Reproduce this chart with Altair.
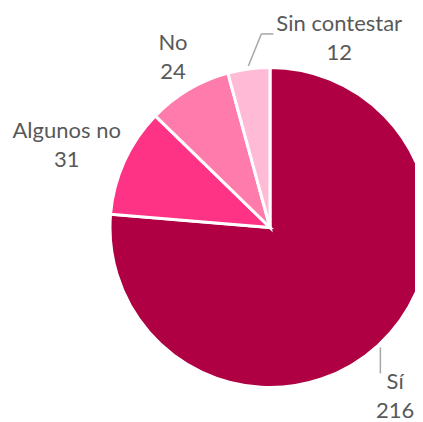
import altair as alt
import pandas as pd

categories = ["Sí", "Algunos no", "No", "Sin contestar"]
values = [216, 31, 24, 12]
colors = ["#AE0042", "#FF3385", "#FF7BAC", "#FFBAD6"]

df = pd.DataFrame({"categoria": categories, "valor": values, "orden": list(range(len(categories)))})

CX, CY, R = 262, 219.5, 160
FONT = "Lato"
TEXT_COLOR = "#595959"
LINE_COLOR = "#A6A6A6"
LH = 29

base = alt.Chart(df).transform_joinaggregate(
    total="sum(valor)"
).transform_window(
    cum="sum(valor)", sort=[alt.SortField("orden")], frame=[None, 0]
).transform_calculate(
    mid="2*PI*(datum.cum - datum.valor/2)/datum.total",
    label="datum.categoria + '\\n' + datum.valor",
    x0=f"{CX} + {R + 3}*sin(2*PI*(datum.cum - datum.valor/2)/datum.total)",
    y0=f"{CY} - {R + 3}*cos(2*PI*(datum.cum - datum.valor/2)/datum.total)",
)

pie = alt.Chart(df).mark_arc(outerRadius=R, stroke="white", strokeWidth=3).encode(
    theta=alt.Theta("valor:Q", stack=True),
    order=alt.Order("orden:Q"),
    color=alt.Color("categoria:N", scale=alt.Scale(domain=categories, range=colors), legend=None),
    x=alt.value(CX),
    y=alt.value(CY),
)


def label(cat, radius, dx, dy):
    return base.transform_filter(alt.datum.categoria == cat).mark_text(
        radius=radius, dx=dx, dy=dy - LH / 2, font=FONT, fontSize=22, color=TEXT_COLOR,
        lineBreak="\n", lineHeight=LH, align="center", baseline="middle",
    ).encode(
        theta=alt.Theta("mid:Q", scale=None),
        text="label:N",
        x=alt.value(CX),
        y=alt.value(CY),
    )


def leader(cat, ax, ay, bx, by):
    return base.transform_filter(alt.datum.categoria == cat).transform_calculate(
        xa=f"datum.x0 + {ax}", ya=f"datum.y0 + {ay}",
        xb=f"datum.x0 + {bx}", yb=f"datum.y0 + {by}",
    ).mark_rule(color=LINE_COLOR, strokeWidth=1.5).encode(
        x=alt.X("xa:Q", scale=None), y=alt.Y("ya:Q", scale=None),
        x2="xb:Q", y2="yb:Q",
    )


layers = [
    pie,
    leader("Sí", 0, 0, 0, 26),
    leader("Sin contestar", 0, 0, 13, -32),
    leader("Sin contestar", 13, -32, 25, -32),
    label("Sí", 210, -17, 14),
    label("Algunos no", 219, -4, 9),
    label("No", 197, 3, 0),
    label("Sin contestar", 194, 95, 3),
]

chart = alt.layer(*layers).properties(
    width=407, height=414, padding=0,
    autosize=alt.AutoSizeParams(type="none"),
).configure_view(stroke=None)

chart.save("out.html", embed_options={"renderer": "svg", "actions": False})
